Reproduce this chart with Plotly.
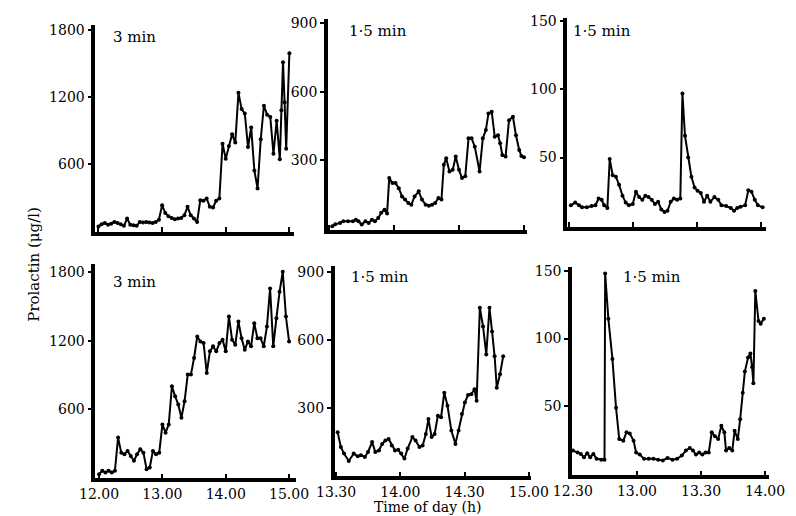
import plotly.graph_objects as go

W, H = 796, 516

# ---- data: time in minutes after 12.00, prolactin in ug/l ----
p1_time = [0, 3, 6, 9, 12, 15, 18, 21, 24, 27, 30, 33, 36, 39, 42, 45, 48, 51, 54, 57,
           60, 63, 66, 69, 72, 75, 78, 81, 84, 87, 90, 93, 96, 99, 102, 105, 108, 111, 114, 117,
           120, 123, 126, 129, 132, 135, 138, 141, 144, 147, 150, 153, 156, 159, 162, 165, 168, 171,
           172.5, 174, 175.5, 177, 180]
p1_prl = [40, 60, 70, 55, 65, 80, 70, 60, 45, 110, 55, 50, 45, 80, 75, 80, 75, 70, 80, 100,
          230, 160, 130, 115, 105, 110, 115, 140, 215, 140, 110, 80, 275, 270, 290, 215, 210, 270, 290, 780,
          645, 760, 865, 790, 1235, 1090, 1050, 750, 925, 540, 380, 820, 1120, 1040, 1020, 690, 985, 640,
          1080, 1510, 1150, 735, 1590]

p2_time = [91.5, 92.9, 95.1, 96.6, 98.8, 101, 102.4, 103.6, 105.1, 106.8, 108.3, 109.8, 111.2, 112.7,
           114.1, 115.6, 116.8, 117.8, 119.3, 120.7, 122.2, 123.7, 125.1, 126.6, 128, 129.5, 131.4,
           132.9, 134.6, 136.1, 137.6, 139, 140.5, 141.9, 143, 144.1, 145.6, 147.1, 148.5, 150, 151.4,
           152.9, 154.4, 155.8, 157.3, 159.5, 161, 162.4, 163.6, 165.1, 166.5, 168, 169, 170, 171.5,
           173.1, 174.9, 176.3, 177.8, 178.8, 180]
p2_prl = [12, 20, 26, 33, 33, 33, 40, 33, 19, 33, 26, 40, 33, 48,
          70, 84, 67, 222, 200, 200, 178, 142, 128, 113, 106, 142, 164,
          128, 106, 101, 106, 113, 135, 128, 280, 309, 251, 258, 316, 258, 222,
          230, 396, 396, 359, 251, 396, 432, 504, 512, 403, 409, 374, 323, 316,
          475, 490, 409, 345, 319, 313]

p3_time = [30.7, 32.7, 34.5, 35.9, 38.2, 40.4, 42.2, 43.7, 45.1, 46.3, 47.8, 48.9, 50.3, 51.8, 53.3,
           54.9, 56.4, 57.9, 59.7, 61.2, 62.7, 64.2, 65.6, 67.1, 68.6, 70.1, 71.6, 73.1, 74.6, 76,
           77.5, 79, 80.5, 82, 83, 84.2, 85.7, 87.2, 88.7, 90.1, 91.6, 93.1, 94.6, 96.1, 98, 99.8,
           101.3, 103.5, 105.7, 107.2, 108.7, 110.2, 112.4, 113.9, 115.4, 116.9, 118.4, 120.6]
p3_prl = [15, 17, 15, 13.5, 13.5, 14.5, 15, 20, 19, 15, 13, 49, 37, 36, 30,
          22, 17, 15, 16, 25, 21, 19, 22, 21, 19, 16, 17.6, 12, 10, 11,
          17.6, 20, 19, 20, 97, 66, 50, 36, 28, 25.6, 24, 17.6, 22, 17.6, 21, 19,
          15, 14.5, 13, 11, 13, 14, 15, 26, 25, 19, 15, 13.5]

p4_time = [0, 3, 6, 9, 12, 15, 18, 21, 24, 27, 30, 33, 36, 39, 42, 45, 48, 51, 54, 57,
           60, 63, 66, 69, 72, 75, 78, 81, 84, 87, 90, 93, 96, 99, 102, 105, 108, 111, 114, 117,
           120, 123, 126, 129, 132, 135, 138, 141, 144, 147, 150, 153, 156, 159, 162, 165, 168, 171,
           174, 177, 180]
p4_prl = [29, 58, 44, 58, 44, 58, 350, 218, 204, 233, 189, 146, 204, 248, 218, 73, 87, 233, 204, 218,
          466, 393, 466, 801, 714, 641, 524, 670, 903, 903, 1049, 1238, 1194, 1180, 918, 1107, 1151,
          1107, 1180, 1209, 1107, 1413, 1209, 1165, 1369, 1223, 1121, 1194, 1151, 1354, 1223, 1223,
          1151, 1325, 1660, 1151, 1398, 1631, 1806, 1413, 1194]

p5_time = [90.7, 92.2, 93.7, 95.9, 98.2, 100.1, 101.6, 103.4, 104.9, 106.8, 108.3, 110, 111.5, 113,
           114.5, 116, 117.5, 119, 120.4, 121.9, 123.4, 125.6, 127.1, 128.9, 130.4, 131.9, 133.1,
           134.6, 136, 137.5, 139, 140.5, 142, 143.8, 145.7, 147.2, 148.7, 150.1, 151.6, 153.1,
           154.6, 155.6, 157.1, 158.6, 160.1, 161.6, 162.8, 164, 165, 166.5, 168]
p5_prl = [192, 126, 97, 64, 97, 85, 90, 82, 104, 148, 104, 111, 140, 155,
          162, 133, 111, 114, 97, 75, 119, 170, 155, 126, 133, 184, 250,
          170, 184, 265, 258, 367, 309, 199, 140, 199, 272, 323, 357, 360,
          382, 331, 743, 660, 536, 743, 638, 528, 389, 448, 528]

p6_time = [30, 32.2, 33.7, 35.2, 36.7, 38.1, 39.6, 41.1, 43.3, 44.8, 45.1, 46.6, 48.5, 50.2, 51.7,
           53.6, 55.1, 56.6, 58.4, 59.6, 61.3, 63.3, 65.5, 67.7, 69.9, 72.1, 74.3, 76.6, 78.8, 81,
           82.9, 84.7, 86.2, 87.6, 89.1, 90.6, 92.1, 93.6, 95, 96.5, 98, 99.5, 100.9, 101.7, 103.2,
           104.6, 105.7, 107.2, 108.3, 109.5, 110.5, 112, 113.1, 113.9, 114.5, 115.4, 116.9, 117.9, 119.4]
p6_prl = [17.5, 16, 15, 12.6, 15.5, 12.6, 15, 11.4, 10.7, 10.7, 148, 114.6, 85, 49, 26,
          24.8, 31, 30, 24.8, 16, 14.6, 11.4, 11.4, 11.4, 10.7, 10.2, 12.1, 10.7, 11.4, 13.8,
          17.5, 19.4, 17.5, 14.6, 16, 14.6, 16, 16, 31, 28, 26, 35.7, 31, 17.5, 19.4,
          17.5, 32, 26, 40.5, 60, 75.7, 86, 89, 79, 67, 135, 113, 111, 114.6]

# tick labels
ticks_a_vals = [0, 60, 120, 180]
ticks_a_text = ["12.00", "13.00", "14.00", "15.00"]
ticks_b_vals = [90, 120, 150, 180]
ticks_b_text = ["13.30", "14.00", "14.30", "15.00"]
ticks_c_vals = [30, 60, 90, 120]
ticks_c_text = ["12.30", "13.00", "13.30", "14.00"]
y_big_vals = [600, 1200, 1800]
y_mid_vals = [300, 600, 900]
y_small_vals = [50, 100, 150]
panel_labels = ["3 min", "1·5 min", "1·5 min", "3 min", "1·5 min", "1·5 min"]

series = [(p1_time, p1_prl), (p2_time, p2_prl), (p3_time, p3_prl),
          (p4_time, p4_prl), (p5_time, p5_prl), (p6_time, p6_prl)]

# layout geometry in pixels: (x0, x1, ytop, ybottom), x range, y range
geo = [
    ((80, 288, 20, 229), [-3, 184], [-8, 1844], ticks_a_vals, ticks_a_text, y_big_vals, False),
    ((324, 533, 14, 227), [89.5, 181.5], [-4, 918], ticks_b_vals, ticks_b_text, y_mid_vals, False),
    ((575, 783, 13, 224), [29, 122], [-0.8, 152.5], ticks_c_vals, ticks_c_text, y_small_vals, False),
    ((80, 291, 262, 478), [-3.6, 187], [-8, 1870], ticks_a_vals, ticks_a_text, y_big_vals, True),
    ((331, 537, 264, 476), [89.3, 181], [-4, 926], ticks_b_vals, ticks_b_text, y_mid_vals, True),
    ((580, 787, 265, 475), [29.6, 122], [-0.8, 152.4], ticks_c_vals, ticks_c_text, y_small_vals, True),
]
label_pos = [(96, 32), (344, 26), (579, 26), (96, 280), (346, 275), (631, 275)]

FONT = "DejaVu Serif"
fig = go.Figure()
layout = dict(width=W, height=H, margin=dict(l=0, r=0, t=0, b=0), autosize=False,
              paper_bgcolor="white", plot_bgcolor="white", showlegend=False,
              font=dict(family=FONT, size=14, color="black"))
annotations = []
for i, ((t, v), (box, xr, yr, xtv, xtt, ytv, showx), (lx, ly), lab) in enumerate(
        zip(series, geo, label_pos, panel_labels)):
    k = "" if i == 0 else str(i + 1)
    x0, x1, yt, yb = box
    fig.add_trace(go.Scatter(x=t, y=v, mode="lines+markers", xaxis="x" + k, yaxis="y" + k,
                             line=dict(color="black", width=2),
                             marker=dict(color="black", size=4)))
    layout["xaxis" + k] = dict(domain=[x0 / W, x1 / W], anchor="y" + k, range=xr,
                               showline=True, linewidth=3.5, linecolor="black", showgrid=False,
                               zeroline=False, ticks="inside", ticklen=5, tickwidth=1.5,
                               tickcolor="black", tickvals=xtv, ticktext=xtt,
                               showticklabels=showx, tickfont=dict(family=FONT, size=14),
                               ticklabelstandoff=0)
    layout["yaxis" + k] = dict(domain=[1 - yb / H, 1 - yt / H], anchor="x" + k, range=yr,
                               showline=True, linewidth=3.5, linecolor="black", showgrid=False,
                               zeroline=False, ticks="outside", ticklen=4, tickwidth=1.5,
                               tickcolor="black", tickvals=ytv, ticktext=[str(a) for a in ytv],
                               tickfont=dict(family=FONT, size=14), ticklabelstandoff=0)
    annotations.append(dict(text=lab, x=lx / W, y=1 - ly / H, xref="paper", yref="paper",
                            xanchor="left", yanchor="middle", showarrow=False,
                            font=dict(family=FONT, size=15, color="black")))

annotations.append(dict(text="Prolactin (μg/l)", x=16 / W, y=1 - 262 / H, xref="paper", yref="paper",
                        textangle=-90, showarrow=False, xanchor="center", yanchor="middle",
                        font=dict(family=FONT, size=15, color="black")))
annotations.append(dict(text="Time of day (h)", x=429 / W, y=0, xref="paper", yref="paper",
                        showarrow=False, xanchor="center", yanchor="bottom", borderpad=0,
                        font=dict(family=FONT, size=14, color="black")))
layout["annotations"] = annotations
fig.update_layout(**layout)
fig.write_html("out.html")
